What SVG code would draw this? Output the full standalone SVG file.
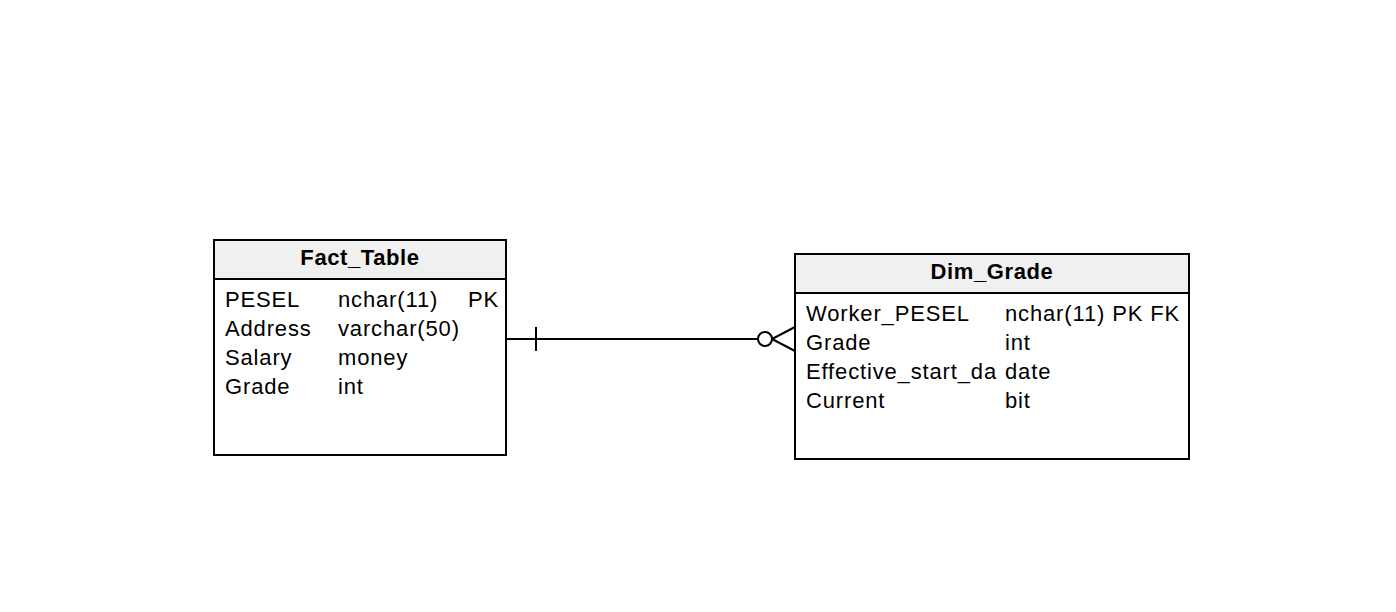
<svg xmlns="http://www.w3.org/2000/svg" width="1396" height="612" viewBox="0 0 1396 612">
<style>
.box{fill:#ffffff;stroke:#000;stroke-width:2}
.hdr{fill:#f0f0f0;stroke:#000;stroke-width:2}
.t{font-family:"Liberation Sans",Arial,sans-serif;font-size:22px;fill:#000;letter-spacing:0.85px}
.h{font-family:"Liberation Sans",Arial,sans-serif;font-size:22px;font-weight:bold;fill:#000;text-anchor:middle;letter-spacing:0.6px}
.ln{fill:none;stroke:#000;stroke-width:2}
</style>
<rect width="1396" height="612" fill="#ffffff"/>
<g id="connectors">
<line class="ln" x1="506" y1="339" x2="758" y2="339"/>
<line class="ln" x1="536" y1="327" x2="536" y2="351"/>
<circle class="ln" cx="765" cy="339" r="7" fill="#fff"/>
<line class="ln" x1="772" y1="339" x2="795" y2="327"/>
<line class="ln" x1="772" y1="339" x2="795" y2="351"/>
</g>
<g id="fact_table">
<rect class="box" x="214" y="240" width="292" height="215"/>
<rect class="hdr" x="214" y="240" width="292" height="39"/>
<text class="h" x="360" y="265">Fact_Table</text>
<text class="t" x="225" y="307">PESEL</text>
<text class="t" x="338" y="307">nchar(11)</text>
<text class="t" x="468" y="307">PK</text>
<text class="t" x="225" y="336">Address</text>
<text class="t" x="338" y="336">varchar(50)</text>
<text class="t" x="225" y="365">Salary</text>
<text class="t" x="338" y="365">money</text>
<text class="t" x="225" y="394">Grade</text>
<text class="t" x="338" y="394">int</text>
</g>
<g id="dim_grade">
<rect class="box" x="795" y="254" width="394" height="205"/>
<rect class="hdr" x="795" y="254" width="394" height="39"/>
<text class="h" x="992" y="279">Dim_Grade</text>
<text class="t" x="806" y="321">Worker_PESEL</text>
<text class="t" x="1005" y="321">nchar(11) PK FK</text>
<text class="t" x="806" y="350">Grade</text>
<text class="t" x="1005" y="350">int</text>
<text class="t" x="806" y="379">Effective_start_da</text>
<text class="t" x="1005" y="379">date</text>
<text class="t" x="806" y="408">Current</text>
<text class="t" x="1005" y="408">bit</text>
</g>
</svg>
